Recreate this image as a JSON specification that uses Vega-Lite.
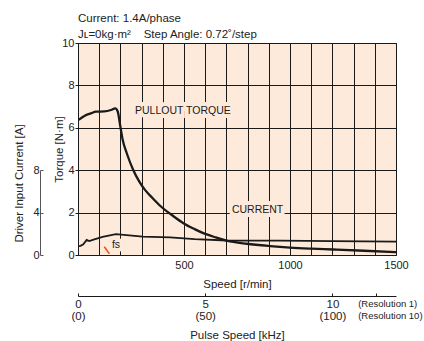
{
  "$schema": "https://vega.github.io/schema/vega-lite/v6.json",
  "width": 318,
  "height": 212,
  "autosize": "none",
  "padding": {"left": 78, "top": 43, "right": 28, "bottom": 86},
  "background": "white",
  "title": {
    "text": "Current: 1.4A/phase",
    "subtitle": "Jʟ=0kg·m²\u00a0\u00a0\u00a0 Step Angle: 0.72˚/step",
    "anchor": "start",
    "frame": "group",
    "offset": -3,
    "font": "Liberation Sans, sans-serif",
    "subtitleFont": "Liberation Sans, sans-serif",
    "fontSize": 11.5,
    "subtitleFontSize": 11.5,
    "fontWeight": "normal",
    "color": "#222",
    "subtitleColor": "#222",
    "subtitlePadding": 4
  },
  "datasets": {
    "torque": [
      {"series": "pullout", "speed": 3, "torque": 6.37},
      {"series": "pullout", "speed": 30, "torque": 6.56},
      {"series": "pullout", "speed": 61, "torque": 6.68},
      {"series": "pullout", "speed": 85, "torque": 6.76},
      {"series": "pullout", "speed": 124, "torque": 6.77},
      {"series": "pullout", "speed": 156, "torque": 6.84},
      {"series": "pullout", "speed": 176, "torque": 6.92},
      {"series": "pullout", "speed": 187, "torque": 6.78},
      {"series": "pullout", "speed": 200, "torque": 6.05},
      {"series": "pullout", "speed": 211, "torque": 5.42},
      {"series": "pullout", "speed": 230, "torque": 4.8},
      {"series": "pullout", "speed": 261, "torque": 4.0},
      {"series": "pullout", "speed": 290, "torque": 3.45},
      {"series": "pullout", "speed": 316, "torque": 3.07},
      {"series": "pullout", "speed": 350, "torque": 2.7},
      {"series": "pullout", "speed": 390, "torque": 2.3},
      {"series": "pullout", "speed": 450, "torque": 1.83},
      {"series": "pullout", "speed": 497, "torque": 1.5},
      {"series": "pullout", "speed": 550, "torque": 1.22},
      {"series": "pullout", "speed": 591, "torque": 1.03},
      {"series": "pullout", "speed": 650, "torque": 0.83},
      {"series": "pullout", "speed": 701, "torque": 0.68},
      {"series": "pullout", "speed": 796, "torque": 0.53},
      {"series": "pullout", "speed": 906, "torque": 0.42},
      {"series": "pullout", "speed": 1000, "torque": 0.35},
      {"series": "pullout", "speed": 1100, "torque": 0.3},
      {"series": "pullout", "speed": 1203, "torque": 0.26},
      {"series": "pullout", "speed": 1350, "torque": 0.2},
      {"series": "pullout", "speed": 1500, "torque": 0.13},
      {"series": "fs", "speed": 124, "torque": 0.39},
      {"series": "fs", "speed": 148, "torque": 0.06}
    ],
    "labels": [
      {"text": "PULLOUT TORQUE", "speed": 269, "torque": 6.78},
      {"text": "CURRENT", "speed": 726, "torque": 2.12},
      {"text": "fs", "speed": 160, "torque": 0.45}
    ],
    "current": [
      {"speed": 3, "current": 0.84},
      {"speed": 12, "current": 0.86},
      {"speed": 25, "current": 1.0},
      {"speed": 41, "current": 1.42},
      {"speed": 53, "current": 1.32},
      {"speed": 77, "current": 1.48},
      {"speed": 116, "current": 1.72},
      {"speed": 179, "current": 1.96},
      {"speed": 242, "current": 1.86},
      {"speed": 305, "current": 1.74},
      {"speed": 434, "current": 1.66},
      {"speed": 550, "current": 1.5},
      {"speed": 701, "current": 1.37},
      {"speed": 953, "current": 1.35},
      {"speed": 1200, "current": 1.31},
      {"speed": 1500, "current": 1.27}
    ]
  },
  "layer": [
    {
      "encoding": {
        "x": {
          "field": "speed",
          "type": "quantitative",
          "scale": {"domain": [0, 1500], "nice": false},
          "axis": {
            "title": "Speed [r/min]",
            "values": [0, 100, 200, 300, 400, 500, 600, 700, 800, 900, 1000, 1100, 1200, 1300, 1400, 1500],
            "labelExpr": "datum.value > 0 && datum.value % 500 == 0 ? datum.label : ''",
            "format": "d",
            "grid": true,
            "gridColor": "#1a1a1a",
            "gridOpacity": 1,
            "gridWidth": 1,
            "ticks": false,
            "domain": false,
            "labelPadding": 4,
            "labelFlush": false,
            "labelOverlap": false,
            "titlePadding": 8
          }
        },
        "y": {
          "field": "torque",
          "type": "quantitative",
          "scale": {"domain": [0, 10], "nice": false},
          "axis": {
            "title": "Torque [N·m]",
            "values": [0, 2, 4, 6, 8, 10],
            "grid": true,
            "gridColor": "#1a1a1a",
            "gridOpacity": 1,
            "gridWidth": 1,
            "ticks": true,
            "tickSize": 3,
            "tickColor": "#1a1a1a",
            "domain": false,
            "labelPadding": 1,
            "titlePadding": -3
          }
        }
      },
      "layer": [
        {
          "data": {"name": "torque"},
          "transform": [{"filter": "datum.series == 'pullout'"}],
          "mark": {"type": "line", "color": "#1a1a1a", "strokeWidth": 2.3, "interpolate": "monotone"}
        },
        {
          "data": {"name": "torque"},
          "transform": [{"filter": "datum.series == 'fs'"}],
          "mark": {"type": "line", "color": "#e8521c", "strokeWidth": 1.6}
        },
        {
          "data": {"name": "labels"},
          "mark": {"type": "text", "align": "left", "baseline": "middle", "fontSize": 10.5, "stroke": "#fdeadb", "strokeWidth": 8, "fill": "#fdeadb"},
          "encoding": {"text": {"field": "text"}}
        },
        {
          "data": {"name": "labels"},
          "mark": {"type": "text", "align": "left", "baseline": "middle", "fontSize": 10.5, "color": "#1a1a1a"},
          "encoding": {"text": {"field": "text"}}
        }
      ]
    },
    {
      "data": {"name": "current"},
      "mark": {"type": "line", "color": "#1a1a1a", "strokeWidth": 1.8},
      "encoding": {
        "x": {
          "field": "speed",
          "type": "quantitative",
          "scale": {"domain": [0, 1500], "nice": false},
          "axis": {
            "title": "Pulse Speed [kHz]",
            "orient": "bottom",
            "offset": 41,
            "values": [0, 600, 1200, 1404],
            "labelExpr": "datum.value == 0 ? ['0', '(0)'] : datum.value == 600 ? ['5', '(50)'] : datum.value == 1200 ? ['10', '(100)'] : ['(Resolution 1)', '(Resolution 10)']",
            "labelAlign": {"condition": {"test": "datum.value > 1300", "value": "left"}, "value": "center"},
            "labelOffset": {"condition": {"test": "datum.value > 1300", "value": -18}, "value": 0},
            "labelFontSize": {"condition": {"test": "datum.value > 1300", "value": 9.5}, "value": 11.5},
            "labelLineHeight": 12.5,
            "labelFlush": false,
            "labelOverlap": false,
            "labelPadding": 5,
            "grid": false,
            "domain": true,
            "domainColor": "#1a1a1a",
            "ticks": true,
            "tickSize": -3,
            "tickColor": "#1a1a1a",
            "titlePadding": 7
          }
        },
        "y": {
          "field": "current",
          "type": "quantitative",
          "scale": {"domain": [0, 8], "range": [212, 127.2], "nice": false},
          "axis": {
            "title": "Driver Input Current [A]",
            "orient": "left",
            "offset": 38,
            "values": [0, 4, 8],
            "grid": false,
            "domain": true,
            "domainColor": "#555",
            "ticks": true,
            "tickSize": -3,
            "tickColor": "#555",
            "labelPadding": 4,
            "titlePadding": 8,
            "titleY": 140
          }
        }
      }
    }
  ],
  "resolve": {
    "scale": {"y": "independent"},
    "axis": {"x": "independent", "y": "independent"}
  },
  "config": {
    "font": "Liberation Sans, sans-serif",
    "view": {"fill": "#fdeadb", "stroke": "#1a1a1a", "strokeWidth": 1},
    "axis": {
      "labelFont": "Liberation Sans, sans-serif",
      "labelFontSize": 11,
      "labelColor": "#222",
      "titleFont": "Liberation Sans, sans-serif",
      "titleFontSize": 11.5,
      "titleFontWeight": "normal",
      "titleColor": "#222"
    },
    "text": {"font": "Liberation Sans, sans-serif"}
  }
}
